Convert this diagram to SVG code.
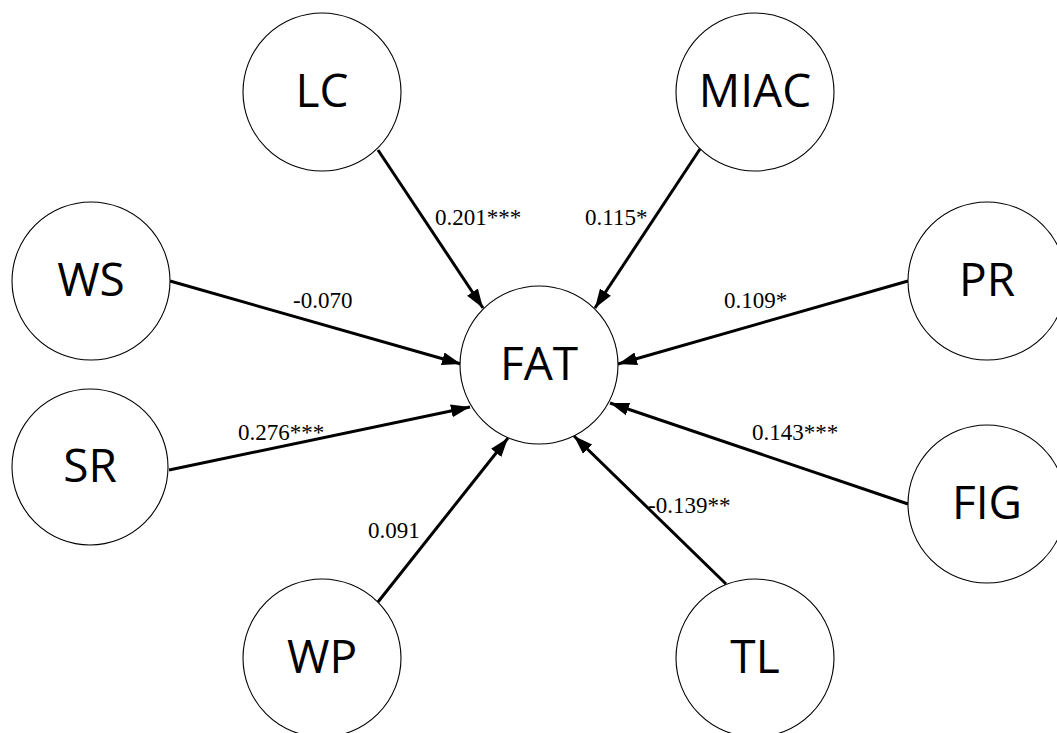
<svg xmlns="http://www.w3.org/2000/svg" width="1057" height="733" viewBox="0 0 1057 733">
<style>
.node circle{fill:#fff;stroke:#000;stroke-width:1.1}
.node text{font-family:"Open Sans","Noto Sans",sans-serif;font-size:46px;text-anchor:middle;fill:#000}
.edges line{stroke:#000;stroke-width:3;marker-end:url(#arr)}
.lbl{font-family:"Liberation Serif",serif;font-size:23px;fill:#000}
</style>
<defs>
<marker id="arr" markerUnits="userSpaceOnUse" markerWidth="20" markerHeight="16" viewBox="0 0 20 16" refX="19" refY="8" orient="auto">
<path d="M0,1.5 L19,8 L0,14.5 Z" fill="#000"/>
</marker>
</defs>
<rect width="1057" height="733" fill="#fff"/>
<g class="edges">
<line x1="378" y1="150" x2="483" y2="308"/>
<line x1="700" y1="149" x2="595" y2="308"/>
<line x1="170" y1="281" x2="461" y2="364"/>
<line x1="908" y1="281" x2="618" y2="364"/>
<line x1="169" y1="470" x2="470" y2="407"/>
<line x1="908" y1="504" x2="610" y2="403"/>
<line x1="378" y1="602" x2="508" y2="438"/>
<line x1="726" y1="584" x2="574" y2="436"/>
</g>
<g id="FAT" class="node"><circle cx="539" cy="365" r="79"/><text x="539" y="380">FAT</text></g>
<g id="LC" class="node"><circle cx="322" cy="92" r="79"/><text x="322" y="107">LC</text></g>
<g id="MIAC" class="node"><circle cx="755" cy="92" r="79"/><text x="755" y="107">MIAC</text></g>
<g id="WS" class="node"><circle cx="91" cy="281" r="79"/><text x="91" y="296">WS</text></g>
<g id="PR" class="node"><circle cx="987" cy="281" r="79"/><text x="987" y="296">PR</text></g>
<g id="SR" class="node"><circle cx="90" cy="467" r="78"/><text x="90" y="482">SR</text></g>
<g id="FIG" class="node"><circle cx="987" cy="504" r="79"/><text x="987" y="519">FIG</text></g>
<g id="WP" class="node"><circle cx="322" cy="658" r="79"/><text x="322" y="673">WP</text></g>
<g id="TL" class="node"><circle cx="755" cy="658" r="79"/><text x="755" y="673">TL</text></g>
<g id="labels">
<text class="lbl" x="435" y="225">0.201***</text>
<text class="lbl" x="585" y="225">0.115*</text>
<text class="lbl" x="293" y="308">-0.070</text>
<text class="lbl" x="724" y="308">0.109*</text>
<text class="lbl" x="238" y="440">0.276***</text>
<text class="lbl" x="752" y="440">0.143***</text>
<text class="lbl" x="648" y="513">-0.139**</text>
<text class="lbl" x="368" y="538">0.091</text>
</g>
</svg>
